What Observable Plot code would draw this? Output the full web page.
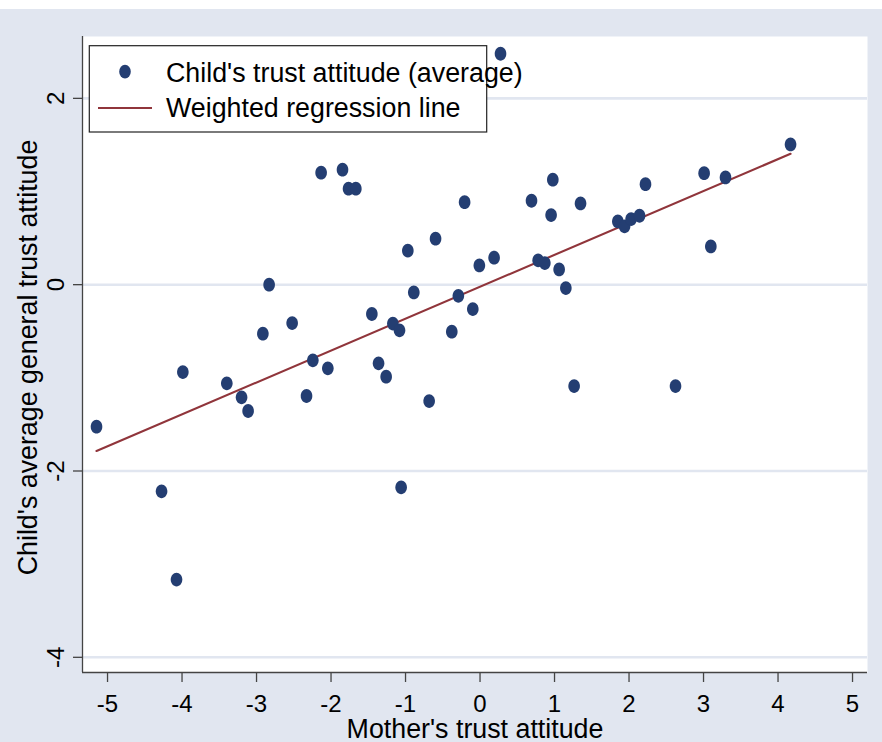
<!DOCTYPE html>
<html><head><meta charset="utf-8">
<script src="https://cdn.jsdelivr.net/npm/d3@7"></script>
<script src="https://cdn.jsdelivr.net/npm/@observablehq/plot@0.6"></script>
<style>
html,body{margin:0;padding:0;background:#fff;}
#chart{margin-top:9px;width:882px;height:733px;background:#e1e6f0;}
#chart svg{display:block;}
</style></head><body><div id="chart"></div>
<script>
const motherTrust = [-5.148,-4.275,-4.074,-3.989,-3.399,-3.201,-3.113,-2.915,-2.831,-2.522,-2.329,-2.244,-2.133,-2.043,-1.846,-1.765,-1.667,-1.452,-1.362,-1.260,-1.170,-1.081,-1.059,-0.969,-0.889,-0.683,-0.597,-0.379,-0.291,-0.207,-0.097,-0.009,0.189,0.275,0.691,0.780,0.870,0.954,0.977,1.062,1.152,1.263,1.349,1.850,1.940,2.028,2.141,2.221,2.624,3.008,3.098,3.295,4.168];
const childTrust = [-1.524,-2.218,-3.165,-0.938,-1.059,-1.209,-1.356,-0.526,0.000,-0.412,-1.195,-0.812,1.202,-0.898,1.234,1.030,1.030,-0.315,-0.844,-0.987,-0.418,-0.490,-2.175,0.365,-0.083,-1.249,0.494,-0.504,-0.120,0.886,-0.262,0.207,0.290,2.479,0.901,0.261,0.232,0.747,1.127,0.164,-0.036,-1.088,0.872,0.679,0.626,0.704,0.740,1.079,-1.088,1.197,0.411,1.151,1.505];
const lineX = [-5.148, 4.168];
const lineY = [-1.785, 1.405];
const xDomain = [-5.336, 5.201];
const yDomain = [-4.163, 2.664];
const xTicks = [-5,-4,-3,-2,-1,0,1,2,3,4,5];
const yTicks = [-4,-2,0,2];
const legendLabels = ["Child's trust attitude (average)", "Weighted regression line"];
const xTitle = "Mother's trust attitude";
const yTitle = "Child's average general trust attitude";

const dotColor = "#243e72", lineColor = "#90353b", gridColor = "#e1e6f0", axisColor = "#444";
const font = "'Liberation Sans', Arial, Helvetica, sans-serif";
const fmt = d => (d < 0 ? "-" : "") + Math.abs(d);

const points = motherTrust.map((x, i) => ({x, y: childTrust[i]}));
const fit = lineX.map((x, i) => ({x, y: lineY[i]}));

const RX = 5.8, RY = 6.9, K = 0.5522847;
const ellipse = {draw(ctx) {
  ctx.moveTo(RX, 0);
  ctx.bezierCurveTo(RX, RY*K, RX*K, RY, 0, RY);
  ctx.bezierCurveTo(-RX*K, RY, -RX, RY*K, -RX, 0);
  ctx.bezierCurveTo(-RX, -RY*K, -RX*K, -RY, 0, -RY);
  ctx.bezierCurveTo(RX*K, -RY, RX, -RY*K, RX, 0);
  ctx.closePath();
}};

const chart = Plot.plot({
  width: 882, height: 733,
  marginTop: 27, marginBottom: 70, marginLeft: 82, marginRight: 15,
  style: {background: "transparent", fontFamily: font, color: "#000", overflow: "visible"},
  x: {domain: xDomain},
  y: {domain: yDomain},
  marks: [
    Plot.frame({fill: "white", stroke: null}),
    Plot.ruleY(yTicks, {stroke: gridColor, strokeWidth: 2.6}),
    Plot.ruleX([xDomain[0]], {stroke: axisColor, strokeWidth: 1.3}),
    Plot.ruleY([yDomain[0]], {stroke: axisColor, strokeWidth: 1.3}),
    Plot.axisX(xTicks, {anchor: "bottom", tickSize: 10, tickPadding: 12, fontSize: 24, tickFormat: fmt, stroke: axisColor, strokeWidth: 1.3, label: null}),
    Plot.axisY(yTicks, {anchor: "left", tickSize: 9, tickPadding: 10, tickRotate: -90, fontSize: 24, tickFormat: fmt, stroke: axisColor, strokeWidth: 1.3, label: null}),
    Plot.line(fit, {x: "x", y: "y", stroke: lineColor, strokeWidth: 2.1}),
    Plot.dot(points, {x: "x", y: "y", symbol: ellipse, fill: dotColor, stroke: null}),
    Plot.text([xTitle], {frameAnchor: "bottom", textAnchor: "middle", dy: 56.5, fontSize: 26.8, lineAnchor: "middle"}),
    Plot.text([yTitle], {frameAnchor: "left", textAnchor: "middle", dx: -54.5, dy: 3, rotate: -90, fontSize: 26.8, lineAnchor: "middle"})
  ]
});
document.getElementById("chart").appendChild(chart);

// legend
const svg = d3.select(chart);
const lg = svg.append("g").attr("font-family", font).attr("font-size", 26.8).attr("text-anchor", "start").attr("fill", "#000");
lg.append("rect").attr("x", 89.3).attr("y", 36.7).attr("width", 397.4).attr("height", 86.3)
  .attr("fill", "white").attr("stroke", "#222").attr("stroke-width", 1.2);
lg.append("ellipse").attr("cx", 125).attr("cy", 62.7).attr("rx", RX).attr("ry", RY).attr("fill", dotColor);
lg.append("line").attr("x1", 98).attr("x2", 152).attr("y1", 99).attr("y2", 99)
  .attr("stroke", lineColor).attr("stroke-width", 2.1);
lg.append("text").attr("x", 166).attr("y", 72.7).attr("text-anchor", "start").text(legendLabels[0]);
lg.append("text").attr("x", 166).attr("y", 108.3).attr("text-anchor", "start").text(legendLabels[1]);
</script>
</body></html>
